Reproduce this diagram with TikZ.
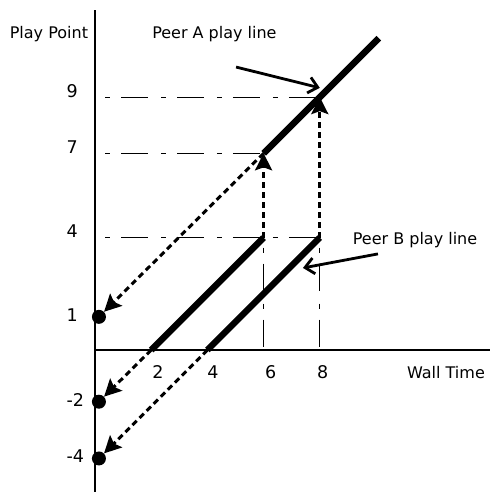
\documentclass[tikz,border=0pt]{standalone}
\usepackage{fontspec}
\setmainfont{DejaVu Sans}
\usetikzlibrary{arrows.meta}

\begin{document}
\begin{tikzpicture}[x=28.1pt,y=28.1pt,
    axis/.style={line width=2.7pt},
    playline/.style={line width=6.5pt},
    guide/.style={line width=0.9pt,dash pattern=on 5pt off 11pt on 27pt off 13pt,dash phase=46pt},
    jump/.style={line width=3pt,dash pattern=on 6pt off 4pt,-{Stealth[length=17pt,width=17pt,inset=3pt]}},
    pointer/.style={line width=2.8pt,-{Straight Barb[length=9pt,width=16pt]}},
    txt/.style={font=\fontsize{16}{19}\selectfont,anchor=base},
    num/.style={font=\fontsize{17.5}{21}\selectfont,anchor=base},
    dot/.style={circle,fill=black,minimum size=14pt,inner sep=0pt}]
    \useasboundingbox (-3.381,-5.445) rectangle (14.448,12.456);
    % axes
    \coordinate (o) at (0,0);
    \coordinate (ytop) at (0,12.1);
    \coordinate (ybot) at (0,-5.05);
    \coordinate (xend) at (14.06,0);
    \path[draw,axis] (ybot) -- (ytop);
    \path[draw,axis] (o) -- (xend);
    % points of the play lines
    \coordinate (a7) at (6,7);
    \coordinate (a9) at (8,9);
    \coordinate (aend) at (10.1,11.1);
    \coordinate (b1s) at (2,0);
    \coordinate (b1e) at (6,4);
    \coordinate (b2s) at (4,0);
    \coordinate (b2e) at (8,4);
    \coordinate (y9) at (0,9);
    \coordinate (y7) at (0,7);
    \coordinate (y4) at (0,4);
    \coordinate (x6) at (6,0);
    \coordinate (x8) at (8,0);
    % guide lines
    \path[draw,guide] (y9) -- (a9);
    \path[draw,guide] (y7) -- (a7);
    \path[draw,guide] (y4) -- (b2e);
    \path[draw,guide] (b1e) -- (x6);
    \path[draw,guide] (b2e) -- (x8);
    % play lines
    \path[draw,playline] (a7) -- (aend);
    \path[draw,playline] (b1s) -- (b1e);
    \path[draw,playline] (b2s) -- (b2e);
    % dots on the play point axis
    \node[dot] (d1) at (0.14,1.18) {};
    \node[dot] (d2) at (0.14,-1.84) {};
    \node[dot] (d3) at (0.14,-3.86) {};
    % jumps
    \path[draw,jump] (b1e) -- (a7);
    \path[draw,jump] (b2e) -- (a9);
    \path[draw,jump] (a7) -- (d1);
    \path[draw,jump] (b1s) -- (d2);
    \path[draw,jump] (b2s) -- (d3);
    % labels
    \node[txt] (ylab) at (-1.64,11.07) {Play Point};
    \node[txt] (xlab) at (12.49,-1.03) {Wall Time};
    \node[txt] (alab) at (4.25,11.07) {Peer A play line};
    \node[txt] (blab) at (11.39,3.74) {Peer B play line};
    \coordinate (atail) at (5.02,10.07);
    \coordinate (atip) at (8.0,9.33);
    \coordinate (btail) at (10.07,3.42);
    \coordinate (btip) at (7.4,2.92);
    \path[draw,pointer] (atail) -- (atip);
    \path[draw,pointer] (btail) -- (btip);
    % ticks
    \node[num] (t2) at (2.24,-1.0) {2};
    \node[num] (t4) at (4.2,-1.0) {4};
    \node[num] (t6) at (6.25,-1.0) {6};
    \node[num] (t8) at (8.1,-1.0) {8};
    \node[num,anchor=base west] (p9) at (-1.14,9) {9};
    \node[num,anchor=base west] (p7) at (-1.14,7) {7};
    \node[num,anchor=base west] (p4) at (-1.14,4) {4};
    \node[num,anchor=base west] (p1) at (-1.14,1) {1};
    \node[num,anchor=base west] (pm2) at (-1.14,-2) {-2};
    \node[num,anchor=base west] (pm4) at (-1.14,-4) {-4};
  \end{tikzpicture}
\end{document}
